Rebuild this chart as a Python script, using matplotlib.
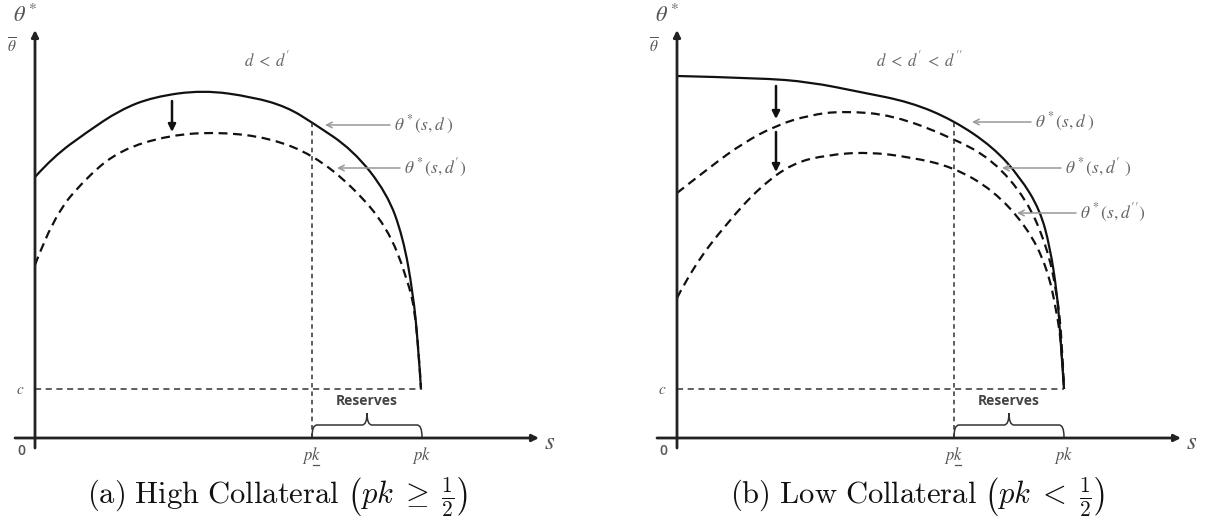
import numpy as np
import matplotlib
matplotlib.use('Agg')
import matplotlib.pyplot as plt
from matplotlib.path import Path
from matplotlib.patches import PathPatch

# Schematic values, in units measured from each panel's origin (s right, theta up)
pk_low = 277      # p*k underline
pk = 387          # p*k
c_level = 49      # c

# (a) high collateral
a_solid_s = [0, 18, 52, 85, 118, 168, 218, 252, 278, 318, 352, 368, 378, 383, 386]
a_solid_t = [261, 281, 306, 328, 341, 348, 341, 331, 315, 288, 245, 201, 145, 95, 49]
a_dash_s = [0, 18, 52, 85, 135, 185, 235, 278, 318, 352, 372, 382, 386]
a_dash_t = [173, 221, 261, 288, 303, 306, 300, 283, 251, 211, 161, 118, 49]

# (b) low collateral
b_solid_s = [0, 83, 133, 183, 233, 276, 316, 343, 363, 373, 380, 383, 387]
b_solid_t = [362, 360, 356, 346, 336, 318, 291, 261, 228, 191, 145, 108, 49]
b_dash1_s = [0, 33, 66, 100, 133, 166, 216, 276, 316, 350, 370, 380, 385, 387]
b_dash1_t = [245, 271, 295, 313, 323, 327, 323, 300, 278, 238, 191, 145, 98, 49]
b_dash2_s = [0, 16, 50, 83, 116, 150, 190, 233, 276, 316, 350, 370, 380, 385, 387]
b_dash2_t = [140, 171, 215, 251, 275, 283, 286, 281, 271, 248, 211, 171, 125, 88, 49]

grey = '#555555'
lab_grey = '#666666'

fig = plt.figure(figsize=(12.11, 5.21), dpi=100)
W, H = 1211, 521
oy = 438  # pixel row of the s axis


def smooth_curve(ax, xs, ys, **kw):
    # quadratic bezier through midpoints, read points used as control points
    pts = list(zip(xs, ys))
    verts = [pts[0]]
    codes = [Path.MOVETO]
    for i in range(1, len(pts) - 1):
        mid = ((pts[i][0] + pts[i + 1][0]) / 2, (pts[i][1] + pts[i + 1][1]) / 2)
        if i == len(pts) - 2:
            mid = pts[-1]
        verts += [pts[i], mid]
        codes += [Path.CURVE3, Path.CURVE3]
    ax.add_patch(PathPatch(Path(verts, codes), fill=False, **kw))


def panel(left_px, right_px, ox):
    ax = fig.add_axes([left_px / W, 0, (right_px - left_px) / W, 1])
    ax.set_xlim(left_px - ox, right_px - ox)
    ax.set_ylim(oy - H, oy)
    ax.axis('off')
    # axes
    ax.annotate('', xy=(0, 408), xytext=(0, -10),
                arrowprops=dict(arrowstyle='-|>', color='#222222', lw=2,
                                mutation_scale=10, shrinkA=0, shrinkB=0))
    ax.annotate('', xy=(504, 0), xytext=(-20, 0),
                arrowprops=dict(arrowstyle='-|>', color='#222222', lw=2,
                                mutation_scale=10, shrinkA=0, shrinkB=0))
    ax.text(-10, 423, r'$\theta^*$', fontsize=16, color=grey, ha='center', va='center',
            math_fontfamily='stix')
    ax.text(-23, 392, r'$\overline{\theta}$', fontsize=11, color=grey, ha='center', va='center',
            math_fontfamily='stix')
    ax.text(515, -4, r'$s$', fontsize=18, color=grey, ha='center', va='center',
            math_fontfamily='stix')
    ax.text(-15, c_level, r'$c$', fontsize=11, color=grey, ha='center', va='center',
            math_fontfamily='stix')
    ax.text(-14, -13, '0', fontsize=10, color=grey, ha='center', va='center',
            family='Open Sans', fontweight='semibold')
    ax.text(pk_low, -17, r'$pk$', fontsize=12, color=grey, ha='center', va='center',
            math_fontfamily='stix')
    ax.plot([pk_low + 1, pk_low + 7], [-27, -27], color=grey, lw=0.9)
    ax.text(pk, -17, r'$pk$', fontsize=12, color=grey, ha='center', va='center',
            math_fontfamily='stix')
    # c line
    ax.plot([0, pk], [c_level, c_level], color='#333333', lw=1.1, ls=(0, (4, 3)))
    # reserves brace
    mid = (pk_low + pk) / 2
    brace = Path([(pk_low, 1), (pk_low, 13), (pk_low + 5, 13), (mid - 5, 13), (mid, 13), (mid, 25),
                  (mid, 13), (mid + 5, 13), (pk - 5, 13), (pk, 13), (pk, 1)],
                 [Path.MOVETO, Path.CURVE3, Path.CURVE3, Path.LINETO, Path.CURVE3, Path.CURVE3,
                  Path.CURVE3, Path.CURVE3, Path.LINETO, Path.CURVE3, Path.CURVE3])
    ax.add_patch(PathPatch(brace, fill=False, color='#333333', lw=1.1))
    ax.text(mid, 37, 'Reserves', fontsize=10, color='#444444', ha='center', va='center',
            family='Open Sans', fontweight='bold')
    return ax


def gray_arrow(ax, tip, label_x, text):
    ax.annotate('', xy=tip, xytext=(label_x - 4, tip[1]),
                arrowprops=dict(arrowstyle='->', color='#999999', lw=1.1,
                                mutation_scale=10, shrinkA=0, shrinkB=0))
    ax.text(label_x, tip[1], text, fontsize=12.5, color=lab_grey, ha='left', va='center',
            math_fontfamily='stix')


def down_arrow(ax, x, y0, y1):
    ax.annotate('', xy=(x, y1), xytext=(x, y0),
                arrowprops=dict(arrowstyle='-|>', color='#111111', lw=1.8,
                                mutation_scale=11, shrinkA=0, shrinkB=0))


dash = (0, (4, 2.5))

# ---- panel (a)
ax1 = panel(0, 640, 35)
smooth_curve(ax1, a_solid_s, a_solid_t, color='#111111', lw=1.6)
smooth_curve(ax1, a_dash_s, a_dash_t, color='#111111', lw=1.6, ls=dash)
ax1.plot([pk_low, pk_low], [0, 315], color='#333333', lw=1.1, ls=(0, (3, 2.5)))
down_arrow(ax1, 137, 337, 306)
ax1.text(232, 378, r"$d\;<\;d^{\prime}$", fontsize=12, color=lab_grey, ha='center', va='center',
         math_fontfamily='stix')
gray_arrow(ax1, (290, 313), 359, r'$\theta^*(s, d\ )$')
gray_arrow(ax1, (302, 270), 369, r"$\theta^*(s, d^{\prime})$")
ax1.text(242, -59, r"$\mathrm{(a)\ High\ Collateral}\ \left(pk\;\geq\;\frac{1}{2}\right)$",
         fontsize=22, color='#111111', ha='center', va='center', math_fontfamily='cm')

# ---- panel (b)
ax2 = panel(640, 1211, 677)
smooth_curve(ax2, b_solid_s, b_solid_t, color='#111111', lw=1.6)
smooth_curve(ax2, b_dash1_s, b_dash1_t, color='#111111', lw=1.6, ls=dash)
smooth_curve(ax2, b_dash2_s, b_dash2_t, color='#111111', lw=1.6, ls=dash)
ax2.plot([pk_low, pk_low], [0, 318], color='#333333', lw=1.1, ls=(0, (3, 2.5)))
down_arrow(ax2, 99, 352, 319)
down_arrow(ax2, 99, 306, 266)
ax2.text(243, 378, r"$d\;<\;d^{\prime}\;<\;d^{\prime\prime}$", fontsize=12, color=lab_grey,
         ha='center', va='center', math_fontfamily='stix')
gray_arrow(ax2, (295, 316), 358, r'$\theta^*(s, d\ )$')
gray_arrow(ax2, (325, 270), 388, r"$\theta^*(s, d^{\prime}\ )$")
gray_arrow(ax2, (340, 225), 403, r"$\theta^*(s, d^{\prime\prime})$")
ax2.text(241, -59, r"$\mathrm{(b)\ Low\ Collateral}\ \left(pk\;<\;\frac{1}{2}\right)$",
         fontsize=22, color='#111111', ha='center', va='center', math_fontfamily='cm')

fig.savefig('out.png', dpi=100, facecolor='white')
